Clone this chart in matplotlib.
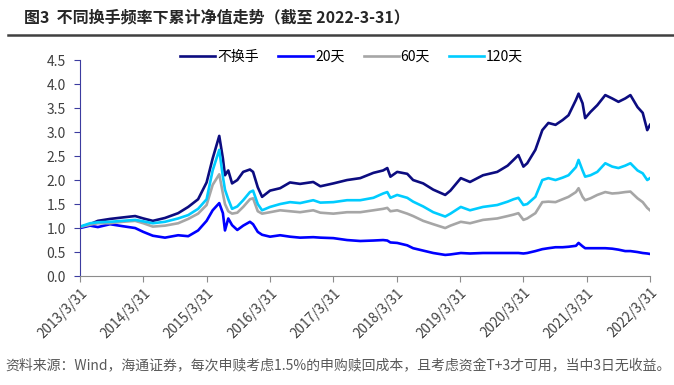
import pandas as pd
import matplotlib
matplotlib.use("Agg")
import matplotlib.pyplot as plt

plt.rcParams['font.family'] = ['Noto Sans CJK SC', 'DejaVu Sans']

# data
dates = ["2013-03-31", "2013-05-28", "2013-07-12", "2013-09-20", "2013-11-30", "2014-02-12",
         "2014-03-31", "2014-05-25", "2014-08-03", "2014-10-18", "2014-12-15", "2015-02-10",
         "2015-03-31", "2015-05-05", "2015-06-12", "2015-07-03", "2015-07-15", "2015-08-03",
         "2015-08-25", "2015-09-24", "2015-10-28", "2015-12-06", "2015-12-24", "2016-01-20",
         "2016-02-14", "2016-03-31", "2016-05-28", "2016-07-24", "2016-09-20", "2016-12-05",
         "2017-01-15", "2017-03-31", "2017-06-18", "2017-09-02", "2017-11-17", "2018-01-12",
         "2018-02-05", "2018-02-23", "2018-04-03", "2018-05-31", "2018-07-04", "2018-08-31",
         "2018-10-28", "2019-01-05", "2019-02-04", "2019-04-05", "2019-05-28", "2019-08-11",
         "2019-11-01", "2019-12-31", "2020-02-03", "2020-03-02", "2020-03-31", "2020-04-22",
         "2020-06-08", "2020-07-18", "2020-08-22", "2020-10-02", "2020-11-12", "2020-12-16",
         "2021-01-28", "2021-02-12", "2021-03-07", "2021-03-22", "2021-04-22", "2021-05-31",
         "2021-07-16", "2021-08-25", "2021-09-30", "2021-11-08", "2021-12-08", "2022-01-18",
         "2022-02-17", "2022-03-15", "2022-03-31"]

no_turnover = [1.02, 1.08, 1.15, 1.19, 1.22, 1.25, 1.20, 1.15, 1.21, 1.31, 1.44, 1.60,
               1.95, 2.45, 2.92, 2.45, 2.10, 2.20, 1.93, 2.00, 2.17, 2.22, 2.17, 1.85,
               1.65, 1.78, 1.83, 1.95, 1.92, 1.96, 1.87, 1.93, 2.00, 2.04, 2.15, 2.20,
               2.25, 2.07, 2.17, 2.13, 2.00, 1.93, 1.80, 1.69, 1.78, 2.04, 1.96, 2.10,
               2.17, 2.30, 2.42, 2.52, 2.28, 2.35, 2.63, 3.04, 3.19, 3.15, 3.25, 3.35,
               3.67, 3.80, 3.60, 3.29, 3.42, 3.56, 3.77, 3.70, 3.63, 3.70, 3.77, 3.52,
               3.40, 3.04, 3.15]

d20 = [1.00, 1.05, 1.02, 1.08, 1.04, 1.00, 0.92, 0.84, 0.80, 0.85, 0.83, 0.95,
       1.15, 1.37, 1.52, 1.31, 0.95, 1.20, 1.06, 0.96, 1.05, 1.13, 1.08, 0.92,
       0.86, 0.82, 0.85, 0.82, 0.80, 0.81, 0.80, 0.79, 0.75, 0.73, 0.74, 0.75,
       0.74, 0.70, 0.69, 0.64, 0.58, 0.53, 0.48, 0.44, 0.45, 0.48, 0.47, 0.48,
       0.48, 0.48, 0.48, 0.48, 0.47, 0.48, 0.52, 0.56, 0.58, 0.60, 0.60, 0.61,
       0.63, 0.69, 0.62, 0.58, 0.58, 0.58, 0.58, 0.57, 0.55, 0.52, 0.52, 0.50,
       0.48, 0.47, 0.46]

d60 = [1.02, 1.07, 1.10, 1.10, 1.13, 1.15, 1.10, 1.03, 1.05, 1.10, 1.19, 1.30,
       1.48, 1.90, 2.12, 1.72, 1.50, 1.35, 1.30, 1.32, 1.44, 1.60, 1.62, 1.35,
       1.30, 1.33, 1.37, 1.35, 1.33, 1.37, 1.32, 1.30, 1.33, 1.33, 1.37, 1.40,
       1.42, 1.35, 1.37, 1.30, 1.25, 1.15, 1.08, 1.00, 1.05, 1.13, 1.10, 1.17,
       1.20, 1.25, 1.28, 1.31, 1.17, 1.20, 1.31, 1.54, 1.55, 1.54, 1.60, 1.65,
       1.75, 1.83, 1.65, 1.58, 1.62, 1.69, 1.75, 1.72, 1.73, 1.75, 1.76, 1.62,
       1.54, 1.42, 1.37]

d120 = [1.03, 1.10, 1.12, 1.13, 1.15, 1.17, 1.14, 1.10, 1.13, 1.20, 1.27, 1.40,
        1.60, 2.20, 2.63, 2.07, 1.80, 1.60, 1.40, 1.45, 1.58, 1.75, 1.78, 1.50,
        1.37, 1.44, 1.50, 1.54, 1.52, 1.58, 1.53, 1.54, 1.58, 1.58, 1.63, 1.72,
        1.75, 1.63, 1.69, 1.63, 1.55, 1.45, 1.33, 1.24, 1.30, 1.44, 1.37, 1.44,
        1.48, 1.55, 1.60, 1.63, 1.48, 1.50, 1.65, 2.00, 2.04, 2.00, 2.05, 2.10,
        2.27, 2.42, 2.20, 2.07, 2.10, 2.17, 2.35, 2.28, 2.25, 2.30, 2.35, 2.20,
        2.14, 2.00, 2.04]

tick_labels = ["2013/3/31", "2014/3/31", "2015/3/31", "2016/3/31", "2017/3/31",
               "2018/3/31", "2019/3/31", "2020/3/31", "2021/3/31", "2022/3/31"]

x = pd.to_datetime(dates)
ticks = pd.to_datetime(tick_labels, format="%Y/%m/%d")

fig = plt.figure(figsize=(6.74, 3.85), dpi=100)
ax = fig.add_axes([0.1187, 0.283, 0.8457, 0.561])

ax.plot(x, no_turnover, color="#0c0c80", lw=1.9, label="不换手")
ax.plot(x, d20, color="#0000ff", lw=1.9, label="20天")
ax.plot(x, d60, color="#a6a6a6", lw=1.9, label="60天")
ax.plot(x, d120, color="#00ccff", lw=1.9, label="120天")

ax.set_xlim(ticks[0], ticks[-1])
ax.set_ylim(0, 4.5)
ax.set_yticks([0, 0.5, 1, 1.5, 2, 2.5, 3, 3.5, 4, 4.5])
ax.set_yticklabels(["0.0", "0.5", "1.0", "1.5", "2.0", "2.5", "3.0", "3.5", "4.0", "4.5"],
                   fontsize=10, color="#404040")
ax.set_xticks(ticks)
ax.set_xticklabels(tick_labels, rotation=45, ha="right", rotation_mode="anchor",
                   fontsize=9.8, color="#404040")

for s in ["top", "right"]:
    ax.spines[s].set_visible(False)
ax.spines["left"].set_color("#3c3ca0")
ax.spines["bottom"].set_color("#8c8c8c")
ax.tick_params(axis="y", direction="out", length=4, color="#3c3ca0", pad=6)
ax.tick_params(axis="x", direction="out", length=4, color="#8c8c8c", pad=3)

fig.legend(loc="center", bbox_to_anchor=(0.522, 0.852), ncol=4, frameon=False,
           fontsize=10, handlelength=2.5, handletextpad=0.15, columnspacing=1.4)

fig.text(0.035, 0.955, "图3  不同换手频率下累计净值走势（截至 2022-3-31）",
         fontsize=11.5, fontweight="bold", color="#262626", va="center")
fig.add_artist(plt.Line2D([0.012, 1.0], [0.91, 0.91], color="#404040", lw=1.8))

fig.text(0.008, 0.048, "资料来源：Wind，海通证券，每次申赎考虑1.5%的申购赎回成本，且考虑资金T+3才可用，当中3日无收益。",
         fontsize=10, color="#595959", va="center")

fig.savefig("out.png", dpi=100)
